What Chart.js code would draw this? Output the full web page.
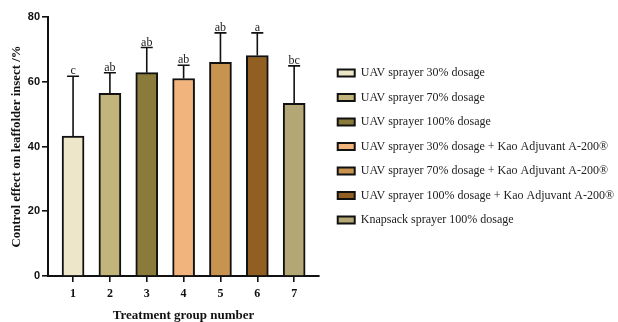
<!DOCTYPE html>
<html>
<head>
<meta charset="utf-8">
<script src="https://cdn.jsdelivr.net/npm/chart.js@4/dist/chart.umd.min.js"></script>
<style>
  html, body { margin: 0; padding: 0; background: #ffffff; }
  #wrap { width: 618px; height: 322px; }
</style>
</head>
<body>
<div id="wrap"><canvas id="chart" width="618" height="322"></canvas></div>
<script>
// Treatment groups (x positions) and their descriptions
const groups = [1, 2, 3, 4, 5, 6, 7];
const treatments = [
  "UAV sprayer 30% dosage",
  "UAV sprayer 70% dosage",
  "UAV sprayer 100% dosage",
  "UAV sprayer 30% dosage + Kao Adjuvant A-200®",
  "UAV sprayer 70% dosage + Kao Adjuvant A-200®",
  "UAV sprayer 100% dosage + Kao Adjuvant A-200®",
  "Knapsack sprayer 100% dosage"
];
// Mean control effect (%) and standard deviation per group
const means = [43.2, 56.4, 62.8, 61.0, 66.0, 68.1, 53.3];
const sds = [18.5, 6.4, 7.8, 4.1, 9.1, 7.0, 11.6];
// Significance letters
const letters = ["c", "ab", "ab", "ab", "ab", "a", "bc"];
// Y axis ticks
const yTicks = [0, 20, 40, 60, 80];
// Fill colours per treatment
const colors = ["#ede6c9", "#c1b57b", "#8b7b3a", "#f1b47d", "#c7934f", "#905f21", "#b3a775"];

const SERIF = "'Liberation Serif', 'Times New Roman', serif";
const SANS = "'Liberation Sans', Arial, sans-serif";

const datasets = groups.map((g, i) => ({
  label: treatments[i],
  data: [{ x: g, y: means[i] }],
  backgroundColor: colors[i],
  borderColor: "#111111",
  borderWidth: 2,
  borderSkipped: "start",
  barThickness: 22,
  grouped: false
}));

// Upward error bars with caps and significance letters above them
const errorBars = {
  id: "errorBars",
  afterDatasetsDraw(chart) {
    const ctx = chart.ctx;
    const xs = chart.scales.x, ys = chart.scales.y;
    ctx.save();
    ctx.strokeStyle = "#111111";
    ctx.lineWidth = 1.6;
    ctx.fillStyle = "#222222";
    ctx.font = "12px " + SERIF;
    ctx.textAlign = "center";
    ctx.textBaseline = "bottom";
    groups.forEach((g, i) => {
      const x = xs.getPixelForValue(g);
      const y0 = ys.getPixelForValue(means[i]);
      const y1 = ys.getPixelForValue(means[i] + sds[i]);
      ctx.beginPath();
      ctx.moveTo(x, y0);
      ctx.lineTo(x, y1);
      ctx.moveTo(x - 6, y1);
      ctx.lineTo(x + 6, y1);
      ctx.stroke();
      ctx.fillText(letters[i], x, y1 + 1);
    });
    ctx.restore();
  }
};

// Nudge the legend block a little to the right of the plot
const legendShift = {
  id: "legendShift",
  afterLayout(chart) {
    const lg = chart.legend;
    if (lg) { lg.left += 6; lg.right += 6; }
  }
};

new Chart(document.getElementById("chart"), {
  type: "bar",
  data: { datasets },
  options: {
    responsive: false,
    animation: false,
    layout: { padding: { top: 17, right: 0, bottom: 0, left: 0 } },
    plugins: {
      tooltip: { enabled: false },
      legend: {
        position: "right",
        align: "center",
        fullSize: false,
        maxWidth: 300,
        labels: {
          boxWidth: 17,
          boxHeight: 7,
          padding: 12.5,
          color: "#222222",
          font: { family: SERIF, size: 12 }
        }
      }
    },
    scales: {
      x: {
        type: "linear",
        offset: false,
        min: 0.32,
        max: 7.68,
        afterBuildTicks(scale) { scale.ticks = groups.map(v => ({ value: v })); },
        afterFit(scale) { scale.height = 46; },
        grid: { offset: false, drawOnChartArea: false, drawTicks: true, tickLength: 6, color: "#111111", lineWidth: 1.6 },
        border: { display: true, color: "#111111", width: 2 },
        ticks: {
          padding: 5,
          color: "#111111",
          font: { family: SERIF, size: 12, weight: "bold" },
          callback: v => String(v)
        },
        title: {
          display: true,
          text: "Treatment group number",
          color: "#111111",
          padding: { top: 0, bottom: 0 },
          font: { family: SERIF, size: 13, weight: "bold", lineHeight: 1 }
        }
      },
      y: {
        min: 0,
        max: 80,
        afterBuildTicks(scale) { scale.ticks = yTicks.map(v => ({ value: v })); },
        afterFit(scale) { scale.width = 48; },
        grid: { drawOnChartArea: false, drawTicks: true, tickLength: 6, color: "#111111", lineWidth: 1.6 },
        border: { display: true, color: "#111111", width: 2 },
        ticks: {
          padding: 2,
          color: "#111111",
          font: { family: SANS, size: 11, weight: "bold" }
        },
        title: {
          display: true,
          text: "Control effect on leaffolder insect /%",
          color: "#111111",
          padding: { top: 10, bottom: 0 },
          font: { family: SERIF, size: 12.8, weight: "bold", lineHeight: 1 }
        }
      }
    }
  },
  plugins: [errorBars, legendShift]
});
</script>
</body>
</html>
